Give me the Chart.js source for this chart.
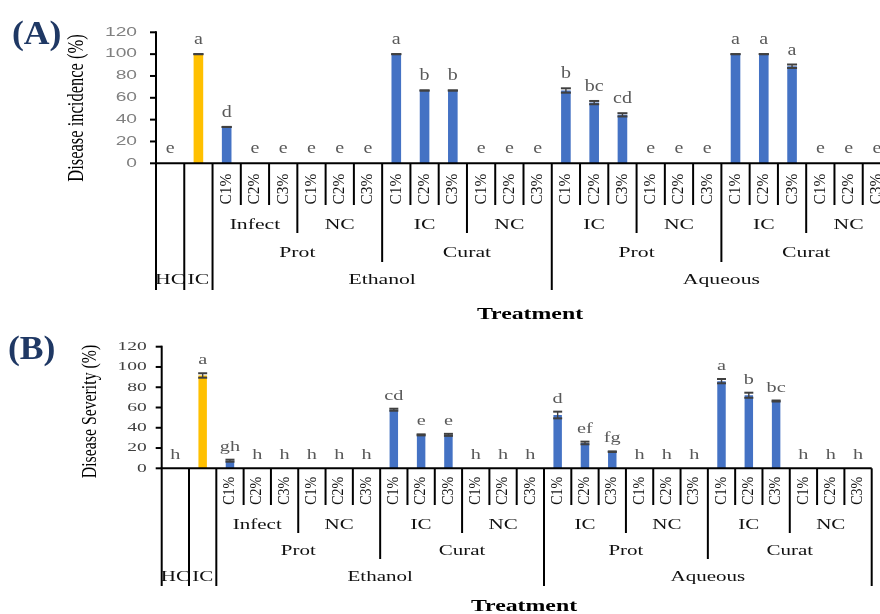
<!DOCTYPE html>
<html>
<head>
<meta charset="utf-8">
<script src="https://cdn.jsdelivr.net/npm/chart.js@4.4.1/dist/chart.umd.min.js"></script>
<style>
  html, body { margin: 0; padding: 0; width: 880px; height: 614px; overflow: hidden; background: #fff; }
  .panel { position: absolute; left: 0; }
  #panelA { top: 0; }
  #panelB { top: 320px; }
</style>
</head>
<body>
<div class="panel" id="panelA"><canvas id="chartA" width="900" height="320"></canvas></div>
<div class="panel" id="panelB"><canvas id="chartB" width="900" height="294"></canvas></div>
<script>
// ---- Treatment structure ----
const controls = ['HC', 'IC'];
const extracts = ['Ethanol', 'Aqueous'];
const timings = ['Prot', 'Curat'];
// two inoculation groups for each extract x timing pair, in order
const inoculations = ['Infect', 'NC', 'IC', 'NC', 'IC', 'NC', 'IC', 'NC'];
const doses = ['C1%', 'C2%', 'C3%'];
const yTicks = [0, 20, 40, 60, 80, 100, 120];

// ---- Disease incidence (%) ----
const incidence = [0, 100, 33.3, 0, 0, 0, 0, 0, 100, 66.7, 66.7, 0, 0, 0,
                   66.7, 55.6, 44.4, 0, 0, 0, 100, 100, 88.9, 0, 0, 0];
const incidenceErr = [0, 0, 0, 0, 0, 0, 0, 0, 0, 0, 0, 0, 0, 0,
                      2.0, 1.5, 1.5, 0, 0, 0, 0, 0, 1.6, 0, 0, 0];
const incidenceLetters = ['e', 'a', 'd', 'e', 'e', 'e', 'e', 'e', 'a', 'b', 'b', 'e', 'e', 'e',
                          'b', 'bc', 'cd', 'e', 'e', 'e', 'a', 'a', 'a', 'e', 'e', 'e'];

// ---- Disease severity (%) ----
const severity = [0, 91.6, 7.5, 0, 0, 0, 0, 0, 57.8, 33.0, 33.0, 0, 0, 0,
                  52.6, 25.0, 16.4, 0, 0, 0, 86.0, 72.1, 66.4, 0, 0, 0];
const severityErr = [0, 2.2, 1.0, 0, 0, 0, 0, 0, 1.0, 0.5, 1.0, 0, 0, 0,
                     3.3, 1.3, 0.3, 0, 0, 0, 2.1, 2.5, 0.5, 0, 0, 0];
const severityLetters = ['h', 'a', 'gh', 'h', 'h', 'h', 'h', 'h', 'cd', 'e', 'e', 'h', 'h', 'h',
                         'd', 'ef', 'fg', 'h', 'h', 'h', 'a', 'b', 'bc', 'h', 'h', 'h'];

// Each category path: [dose, inoculation, timing, extract]; controls only fill the last level
const paths = controls.map(c => [null, null, null, c]);
let inoIndex = 0;
extracts.forEach(ex => timings.forEach(tm => {
  inoculations.slice(inoIndex, inoIndex + 2).forEach(ino =>
    doses.forEach(d => paths.push([d, ino, tm, ex])));
  inoIndex += 2;
}));
const categories = paths.map(p => p.filter(Boolean).slice().reverse().join(' '));
const barColors = paths.map(p => (p[0] === null && p[3] === 'IC') ? '#FFC000' : '#4472C4');

function drawText(ctx, txt, x, y, o) {
  ctx.save();
  ctx.translate(x, y);
  if (o.rot) ctx.rotate(o.rot);
  ctx.scale(o.sx || 1, o.sy || 1);
  ctx.font = o.font;
  ctx.fillStyle = o.color || '#000';
  ctx.textAlign = o.align || 'center';
  ctx.textBaseline = o.baseline || 'middle';
  ctx.fillText(txt, 0, 0);
  ctx.restore();
}

function line(ctx, x1, y1, x2, y2) {
  ctx.beginPath(); ctx.moveTo(x1, y1); ctx.lineTo(x2, y2); ctx.stroke();
}

function decorPlugin(cfg) {
  return {
    id: 'panelDecor',
    afterDatasetsDraw(chart) {
      const ctx = chart.ctx;
      const xs = chart.scales.x, ys = chart.scales.y;
      const area = chart.chartArea;
      const n = categories.length;
      const w = xs.getPixelForValue(1) - xs.getPixelForValue(0);

      // error bars
      ctx.save();
      ctx.strokeStyle = '#404040';
      ctx.lineCap = 'butt';
      cfg.values.forEach((v, i) => {
        if (v <= 0) return;
        const x = xs.getPixelForValue(i);
        const hi = ys.getPixelForValue(v + cfg.errors[i]);
        const lo = ys.getPixelForValue(v - cfg.errors[i]);
        ctx.lineWidth = 1.4;
        line(ctx, x, hi, x, lo);
        ctx.lineWidth = 2;
        line(ctx, x - cfg.capHalf, hi, x + cfg.capHalf, hi);
        line(ctx, x - cfg.capHalf, lo, x + cfg.capHalf, lo);
      });
      ctx.restore();

      // significance letters
      cfg.letters.forEach((t, i) => {
        const x = xs.getPixelForValue(i);
        const y = ys.getPixelForValue(cfg.values[i] + cfg.errors[i]) - cfg.letterGap;
        drawText(ctx, t, x, y, { font: cfg.letterFont, color: '#595959', sx: cfg.letterSx, baseline: 'alphabetic' });
      });

      // axes
      ctx.save();
      ctx.strokeStyle = '#000';
      ctx.lineWidth = 2;
      const x0 = area.left, yb = area.bottom;
      line(ctx, x0, ys.getPixelForValue(yTicks[yTicks.length - 1]) - 1, x0, yb);
      yTicks.forEach(t => {
        const y = ys.getPixelForValue(t);
        line(ctx, x0 - 6, y, x0, y);
        drawText(ctx, String(t), cfg.tickRight, y, { font: cfg.tickFont, color: cfg.tickColor, sx: cfg.tickSx, align: 'right' });
      });
      line(ctx, x0 - 1, yb, area.right, yb);

      // category dividers
      const boundary = i => (i < n ? xs.getPixelForValue(i) - w / 2 : xs.getPixelForValue(n - 1) + w / 2);
      for (let i = 0; i <= n; i++) {
        let depth = 3;
        if (i > 0 && i < n) {
          const a = paths[i - 1], b = paths[i];
          for (let r = 3; r >= 0; r--) { if (a[r] !== b[r]) { depth = r; break; } }
        }
        line(ctx, boundary(i), yb, boundary(i), cfg.rowBottoms[depth]);
      }
      ctx.restore();

      // dose labels (rotated)
      paths.forEach((p, i) => {
        if (!p[0]) return;
        drawText(ctx, p[0], xs.getPixelForValue(i), cfg.rowCenters[0],
          { font: cfg.doseFont, rot: -Math.PI / 2, sx: cfg.doseSx, sy: 1.22, color: '#111' });
      });

      // grouped labels for the three outer levels
      for (let r = 1; r <= 3; r++) {
        let i = 0;
        while (i < n) {
          if (!paths[i][r]) { i++; continue; }
          const key = paths[i].slice(r).join('|');
          let j = i;
          while (j + 1 < n && paths[j + 1].slice(r).join('|') === key) j++;
          const cx = (boundary(i) + boundary(j + 1)) / 2;
          drawText(ctx, paths[i][r], cx, cfg.rowCenters[r], { font: cfg.groupFont, sx: cfg.groupSx, color: '#111' });
          i = j + 1;
        }
      }

      // titles
      drawText(ctx, cfg.yTitle, cfg.yTitlePos[0], cfg.yTitlePos[1],
        { font: cfg.yTitleFont, rot: -Math.PI / 2, sy: 1.35, color: '#000' });
      drawText(ctx, 'Treatment', cfg.xTitlePos[0], cfg.xTitlePos[1],
        { font: 'bold 17px "Liberation Serif"', sx: 1.4, color: '#000' });
      drawText(ctx, cfg.panel, cfg.panelPos[0], cfg.panelPos[1],
        { font: 'bold 33px "Liberation Serif"', sx: 1.08, color: '#1F3864' });
    }
  };
}

function makeChart(id, cfg) {
  const canvas = document.getElementById(id);
  const W = canvas.width, H = canvas.height;
  return new Chart(canvas, {
    type: 'bar',
    data: {
      labels: categories,
      datasets: [{
        data: cfg.values,
        backgroundColor: barColors,
        borderWidth: 0,
        barPercentage: cfg.barPct,
        categoryPercentage: 1
      }]
    },
    options: {
      responsive: false,
      animation: false,
      devicePixelRatio: 1,
      events: [],
      layout: { padding: { left: cfg.area.left, right: W - cfg.area.right, top: cfg.area.top, bottom: H - cfg.area.bottom } },
      plugins: { legend: { display: false }, tooltip: { enabled: false } },
      scales: {
        x: { display: false, offset: true },
        y: { display: false, min: 0, max: 120, ticks: { stepSize: 20 } }
      }
    },
    plugins: [decorPlugin(cfg)]
  });
}

makeChart('chartA', {
  values: incidence, errors: incidenceErr, letters: incidenceLetters,
  area: { left: 156, right: 891, top: 32.3, bottom: 163.3 },
  barPct: 0.34, capHalf: 5,
  letterFont: '16px "Liberation Serif"', letterSx: 1.25, letterGap: 10,
  tickFont: '12px "Liberation Sans"', tickColor: '#808080', tickSx: 1.6, tickRight: 137,
  rowBottoms: [205, 233, 262, 290], rowCenters: [189, 225, 252.7, 280],
  doseFont: '14px "Liberation Serif"', doseSx: 1.1,
  groupFont: '15.5px "Liberation Serif"', groupSx: 1.4,
  yTitle: 'Disease incidence (%)', yTitleFont: '16.5px "Liberation Serif"', yTitlePos: [77, 108],
  xTitlePos: [530, 315], panel: '(A)', panelPos: [36.7, 35]
});

makeChart('chartB', {
  values: severity, errors: severityErr, letters: severityLetters,
  area: { left: 161.7, right: 871.7, top: 26.7, bottom: 148.3 },
  barPct: 0.31, capHalf: 4.5,
  letterFont: '15px "Liberation Serif"', letterSx: 1.35, letterGap: 9,
  tickFont: '13px "Liberation Serif"', tickColor: '#404040', tickSx: 1.5, tickRight: 146.7,
  rowBottoms: [185, 213, 239, 266], rowCenters: [170.8, 205, 230.7, 256.7],
  doseFont: '13px "Liberation Serif"', doseSx: 1.08,
  groupFont: '15px "Liberation Serif"', groupSx: 1.4,
  yTitle: 'Disease Severity (%)', yTitleFont: '15.8px "Liberation Serif"', yTitlePos: [90, 91.5],
  xTitlePos: [524, 286.7], panel: '(B)', panelPos: [31.7, 30.5]
});
</script>
</body>
</html>
